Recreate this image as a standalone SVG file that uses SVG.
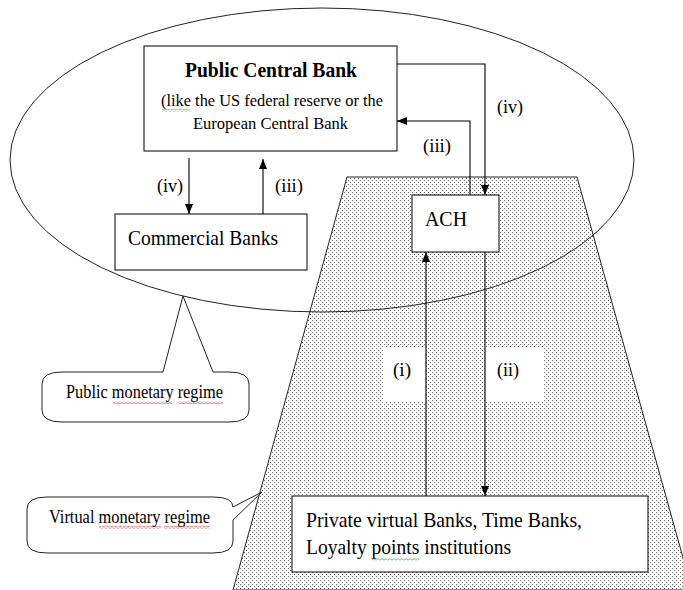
<svg xmlns="http://www.w3.org/2000/svg" width="683" height="590" viewBox="0 0 683 590">
<style>
.box{fill:#fff;stroke:#000;stroke-width:1}
.ln{fill:none;stroke:#000;stroke-width:1.1}
.t{font-family:"Liberation Serif","Times New Roman",serif;fill:#000}
.callout{fill:#fff;stroke:#222;stroke-width:1}
</style>
<defs>
<pattern id="dots" width="4" height="4" patternUnits="userSpaceOnUse">
<rect x="0" y="0" width="1" height="1" fill="#666"/>
<rect x="2" y="2" width="1" height="1" fill="#666"/>
</pattern>
<pattern id="sqR" width="4" height="3" patternUnits="userSpaceOnUse">
<path d="M0,2.2 L2,0.6 L4,2.2" fill="none" stroke="#d22" stroke-width="0.7"/>
</pattern>
<pattern id="sqG" width="4" height="3" patternUnits="userSpaceOnUse">
<path d="M0,2.2 L2,0.6 L4,2.2" fill="none" stroke="#2a2" stroke-width="0.7"/>
</pattern>
<marker id="ah" markerUnits="userSpaceOnUse" markerWidth="10" markerHeight="9" refX="10" refY="4" orient="auto">
<path d="M0,0 L10,4 L0,8 Z" fill="#000"/>
</marker>
</defs>
<rect width="683" height="590" fill="#fff"/>

<g id="virtual-region">
<polygon points="347,177 577,177 692,590 233,590" fill="url(#dots)" stroke="#222" stroke-width="1"/>
</g>

<g id="public-region">
<ellipse cx="322" cy="160" rx="312" ry="152" fill="none" stroke="#222" stroke-width="1"/>
</g>

<g id="label-backgrounds">
<rect x="383" y="347" width="43" height="55" fill="#fff"/>
<rect x="486" y="347" width="57" height="55" fill="#fff"/>
</g>

<g id="public-central-bank">
<rect class="box" x="144" y="46" width="253" height="105"/>
<text class="t" x="185" y="77" font-size="22" font-weight="bold" textLength="172" lengthAdjust="spacingAndGlyphs">Public Central Bank</text>
<text class="t" x="161" y="106" font-size="17" textLength="222" lengthAdjust="spacingAndGlyphs">(like the US federal reserve or the</text>
<text class="t" x="193" y="129" font-size="17" textLength="155" lengthAdjust="spacingAndGlyphs">European Central Bank</text>
<rect x="162" y="109" width="28" height="3" fill="url(#sqG)"/>
</g>

<g id="commercial-banks">
<rect class="box" x="115" y="214" width="192" height="56"/>
<text class="t" x="128" y="245" font-size="22" textLength="150" lengthAdjust="spacingAndGlyphs">Commercial Banks</text>
</g>

<g id="ach">
<rect class="box" x="412" y="195" width="87" height="57"/>
<text class="t" x="425" y="226" font-size="21" textLength="42" lengthAdjust="spacingAndGlyphs">ACH</text>
</g>

<g id="private-banks">
<rect class="box" x="292" y="496" width="356" height="76"/>
<text class="t" x="306" y="527" font-size="22" textLength="276" lengthAdjust="spacingAndGlyphs">Private virtual Banks, Time Banks,</text>
<text class="t" x="306" y="554" font-size="22" textLength="205" lengthAdjust="spacingAndGlyphs">Loyalty points institutions</text>
<rect x="372" y="558" width="47" height="3" fill="url(#sqG)"/>
</g>

<g id="public-callout">
<path class="callout" d="M62,372 H163 L183,296 L213,372 H229 Q249,372 249,384 V410 Q249,422 229,422 H62 Q42,422 42,410 V384 Q42,372 62,372 Z"/>
<text class="t" x="66" y="398" font-size="18" textLength="157" lengthAdjust="spacingAndGlyphs">Public monetary regime</text>
<rect x="113" y="401" width="59" height="3" fill="url(#sqR)"/>
<rect x="178" y="401" width="45" height="3" fill="url(#sqR)"/>
</g>

<g id="virtual-callout">
<path class="callout" d="M47,497 H213 Q233,497 233,507 L262,492 L233,520 V541 Q233,553 213,553 H47 Q27,553 27,541 V509 Q27,497 47,497 Z"/>
<text class="t" x="49" y="523" font-size="18" textLength="161" lengthAdjust="spacingAndGlyphs">Virtual monetary regime</text>
<rect x="99" y="526" width="62" height="3" fill="url(#sqR)"/>
<rect x="164" y="526" width="46" height="3" fill="url(#sqR)"/>
</g>

<g id="connectors">
<path class="ln" d="M397,64 H485 V195" marker-end="url(#ah)"/>
<path class="ln" d="M470,195 V121 H397" marker-end="url(#ah)"/>
<path class="ln" d="M189,158 V214" marker-end="url(#ah)"/>
<path class="ln" d="M263,214 V159" marker-end="url(#ah)"/>
<path class="ln" d="M426,496 V252" marker-end="url(#ah)"/>
<path class="ln" d="M485,252 V496" marker-end="url(#ah)"/>
<text class="t" x="497" y="113" font-size="18" textLength="26" lengthAdjust="spacingAndGlyphs">(iv)</text>
<text class="t" x="423" y="152" font-size="18" textLength="28" lengthAdjust="spacingAndGlyphs">(iii)</text>
<text class="t" x="157" y="192" font-size="18" textLength="26" lengthAdjust="spacingAndGlyphs">(iv)</text>
<text class="t" x="275" y="192" font-size="18" textLength="28" lengthAdjust="spacingAndGlyphs">(iii)</text>
<text class="t" x="393" y="376" font-size="18" textLength="18" lengthAdjust="spacingAndGlyphs">(i)</text>
<text class="t" x="497" y="376" font-size="18" textLength="22" lengthAdjust="spacingAndGlyphs">(ii)</text>
</g>
</svg>
